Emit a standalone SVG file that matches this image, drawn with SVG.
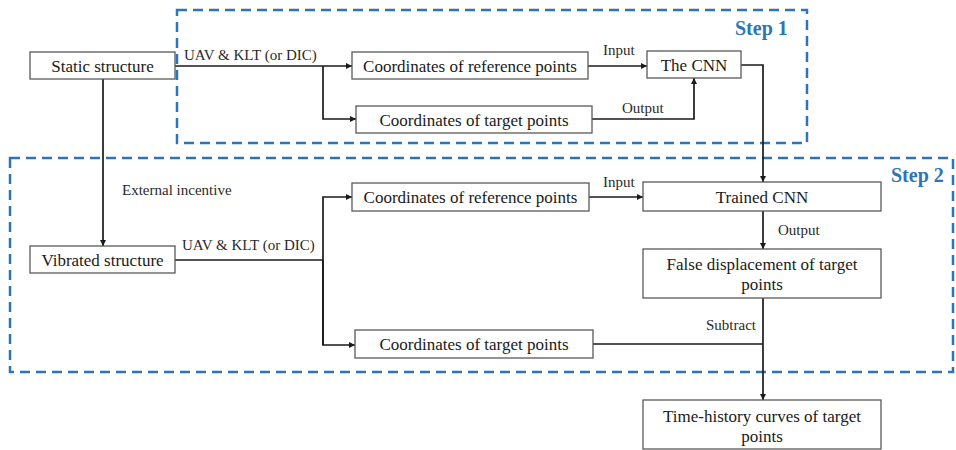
<svg xmlns="http://www.w3.org/2000/svg" width="956" height="450" viewBox="0 0 956 450">
  <defs>
    <marker id="arrow" viewBox="0 0 8 8" refX="8" refY="4" markerWidth="6" markerHeight="6" markerUnits="userSpaceOnUse" orient="auto">
      <path d="M0,0 L8,4 L0,8 z" fill="#1a1a1a"/>
    </marker>
    <style>
      text { font-family: 'Liberation Serif', serif; }
      .box { fill: #ffffff; stroke: #595959; stroke-width: 1.3; }
      .btxt { font-size: 17px; fill: #1a1a1a; text-anchor: middle; }
      .lbl { font-size: 15px; fill: #2a2a2a; }
      .step { fill: none; stroke: #2e75b6; stroke-width: 2.5; stroke-dasharray: 10 6; }
      .steptxt { font-size: 20px; font-weight: bold; fill: #2e75b6; }
      .conn path { fill: none; stroke: #1a1a1a; stroke-width: 1.7; }
    </style>
  </defs>
  <rect width="956" height="450" fill="#ffffff"/>

  <!-- stage frames -->
  <g id="step1">
    <rect class="step" x="177" y="10" width="630" height="133"/>
    <text class="steptxt" x="735" y="35">Step 1</text>
  </g>
  <g id="step2">
    <rect class="step" x="10" y="158" width="943" height="214"/>
    <text class="steptxt" x="891" y="182">Step 2</text>
  </g>

  <!-- connectors -->
  <g id="connectors" class="conn">
    <path d="M175,66 H352" marker-end="url(#arrow)"/>
    <path d="M323,66 V119 H356" marker-end="url(#arrow)"/>
    <path d="M588,66 H647" marker-end="url(#arrow)"/>
    <path d="M592,119 H694 V78" marker-end="url(#arrow)"/>
    <path d="M741,65 H763 V182" marker-end="url(#arrow)"/>
    <path d="M103,79 V246" marker-end="url(#arrow)"/>
    <path d="M175,260 H323"/>
    <path d="M323,345 V197 H352" marker-end="url(#arrow)"/>
    <path d="M323,260 V345 H355" marker-end="url(#arrow)"/>
    <path d="M589,197 H643" marker-end="url(#arrow)"/>
    <path d="M763,211 V249" marker-end="url(#arrow)"/>
    <path d="M593,344 H763"/>
    <path d="M763,298 V400" marker-end="url(#arrow)"/>
  </g>

  <!-- connector labels -->
  <g id="labels" font-family="Liberation Serif, serif">
    <text class="lbl" x="184" y="60">UAV &amp; KLT (or DIC)</text>
    <text class="lbl" x="603" y="55">Input</text>
    <text class="lbl" x="622" y="113">Output</text>
    <text class="lbl" x="122" y="195">External incentive</text>
    <text class="lbl" x="182" y="250">UAV &amp; KLT (or DIC)</text>
    <text class="lbl" x="603" y="187">Input</text>
    <text class="lbl" x="778" y="235">Output</text>
    <text class="lbl" x="706" y="330">Subtract</text>
  </g>

  <!-- nodes -->
  <g id="static-structure">
    <rect class="box" x="30" y="52" width="145" height="27"/>
    <text class="btxt" x="102.5" y="71.5">Static structure</text>
  </g>
  <g id="ref-points-1">
    <rect class="box" x="352" y="52" width="236" height="27"/>
    <text class="btxt" x="470" y="71.5">Coordinates of reference points</text>
  </g>
  <g id="target-points-1">
    <rect class="box" x="356" y="106" width="236" height="27"/>
    <text class="btxt" x="474" y="125.5">Coordinates of target points</text>
  </g>
  <g id="the-cnn">
    <rect class="box" x="647" y="51" width="94" height="27"/>
    <text class="btxt" x="694" y="70.5">The CNN</text>
  </g>
  <g id="vibrated-structure">
    <rect class="box" x="30" y="246" width="145" height="27"/>
    <text class="btxt" x="102.5" y="265.5">Vibrated structure</text>
  </g>
  <g id="ref-points-2">
    <rect class="box" x="352" y="183" width="237" height="28"/>
    <text class="btxt" x="470.5" y="203">Coordinates of reference points</text>
  </g>
  <g id="trained-cnn">
    <rect class="box" x="643" y="182" width="238" height="29"/>
    <text class="btxt" x="762" y="202.5">Trained CNN</text>
  </g>
  <g id="false-displacement">
    <rect class="box" x="643" y="249" width="238" height="49"/>
    <text class="btxt" x="762" y="270">False displacement of target</text>
    <text class="btxt" x="762" y="290">points</text>
  </g>
  <g id="target-points-2">
    <rect class="box" x="355" y="330" width="238" height="28"/>
    <text class="btxt" x="474" y="350">Coordinates of target points</text>
  </g>
  <g id="time-history">
    <rect class="box" x="643" y="400" width="238" height="49"/>
    <text class="btxt" x="762" y="422">Time-history curves of target</text>
    <text class="btxt" x="762" y="442">points</text>
  </g>
</svg>
